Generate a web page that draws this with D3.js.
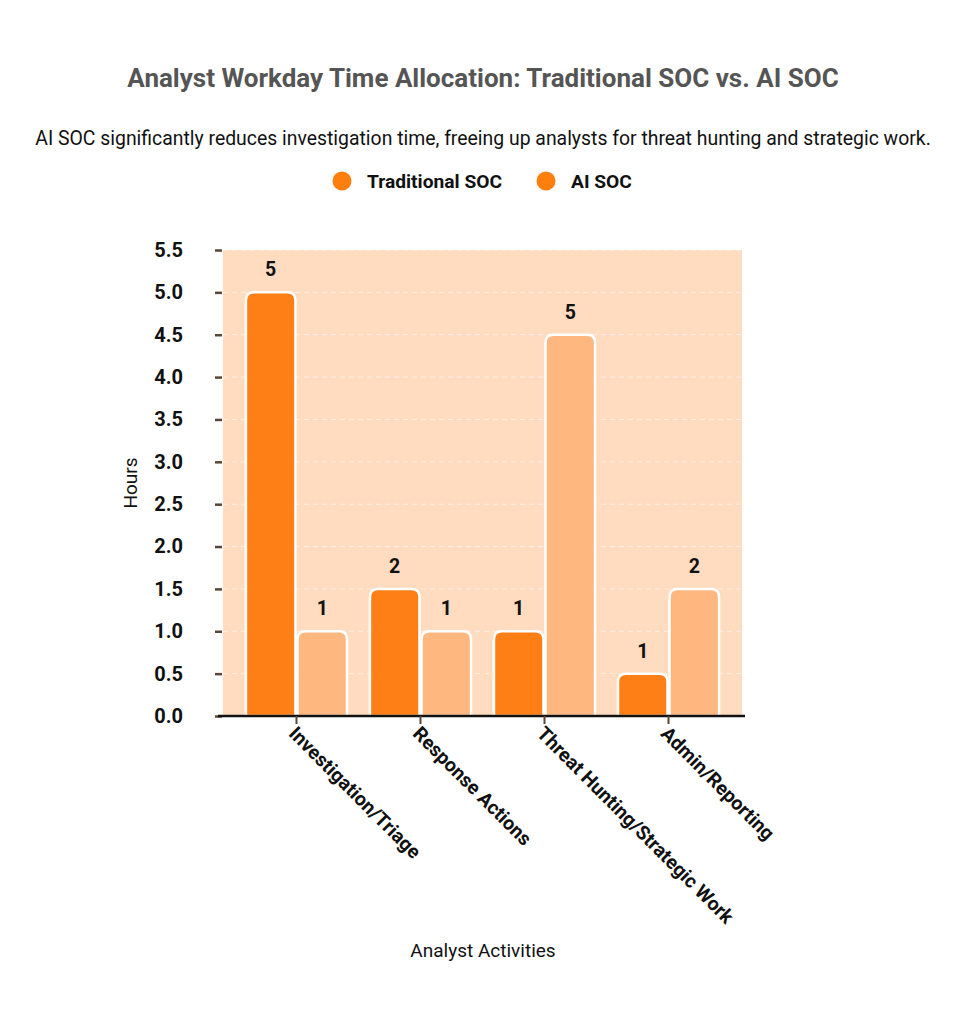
<!DOCTYPE html>
<html>
<head>
<meta charset="utf-8">
<script src="https://cdn.jsdelivr.net/npm/d3@7"></script>
<style>
  html, body { margin: 0; padding: 0; background: #ffffff; }
  svg { display: block; font-family: Roboto, "Noto Sans", sans-serif; }
</style>
</head>
<body>
<svg id="chart" width="966" height="1024"></svg>
<script>
const categories = ["Investigation/Triage", "Response Actions", "Threat Hunting/Strategic Work", "Admin/Reporting"];
const seriesNames = ["Traditional SOC", "AI SOC"];
const traditionalValues = [5, 1.5, 1, 0.5];
const aiValues = [1, 1, 4.5, 1.5];
const yTicks = [0, 0.5, 1, 1.5, 2, 2.5, 3, 3.5, 4, 4.5, 5, 5.5];

const titleText = "Analyst Workday Time Allocation: Traditional SOC vs. AI SOC";
const subtitleText = "AI SOC significantly reduces investigation time, freeing up analysts for threat hunting and strategic work.";
const xTitle = "Analyst Activities";
const yTitle = "Hours";

const barColors = ["#FF7F17", "#FFB780"];
const legendColors = ["#FF7F0E", "#FF7F0E"];

const seriesValues = [traditionalValues, aiValues];
const data = categories.map((c, i) => ({
  category: c,
  values: seriesNames.map((s, j) => ({ series: s, idx: j, value: seriesValues[j][i] }))
}));

const svg = d3.select("#chart");
const plot = { left: 223, right: 742, top: 250, bottom: 716 };

const x0 = d3.scaleBand().domain(categories).range([plot.left, plot.right]).padding(0.185);
const x1 = d3.scaleBand().domain(seriesNames).range([0, x0.bandwidth()]).paddingInner(0.04);
const y = d3.scaleLinear().domain([0, 5.5]).range([plot.bottom, plot.top]);

// title, subtitle
svg.append("text").attr("x", 483).attr("y", 87).attr("text-anchor", "middle")
  .attr("font-size", 26).attr("font-weight", 700).attr("fill", "#555555").text(titleText);
svg.append("text").attr("x", 483).attr("y", 145).attr("text-anchor", "middle")
  .attr("font-size", 19.4).attr("fill", "#111111").text(subtitleText);

// legend
const legendX = [342, 546];
const lg = svg.append("g");
seriesNames.forEach((s, i) => {
  lg.append("circle").attr("cx", legendX[i]).attr("cy", 181).attr("r", 9.5).attr("fill", legendColors[i]);
  lg.append("text").attr("x", legendX[i] + 25).attr("y", 188).attr("font-size", 19.2)
    .attr("font-weight", 700).attr("fill", "#111111").text(s);
});

// background
svg.append("rect").attr("x", plot.left).attr("y", plot.top)
  .attr("width", plot.right - plot.left).attr("height", plot.bottom - plot.top)
  .attr("fill", "#FFDBC0");

// gridlines
svg.append("g").selectAll("line").data(yTicks.filter(t => t > 0)).join("line")
  .attr("x1", plot.left).attr("x2", plot.right)
  .attr("y1", d => y(d)).attr("y2", d => y(d))
  .attr("stroke", "#ffffff").attr("stroke-opacity", 0.55)
  .attr("stroke-dasharray", "5,4").attr("stroke-width", 1);

// bars with rounded top
function barPath(xl, w, yt, yb, r) {
  r = Math.min(r, w / 2, yb - yt);
  return `M${xl},${yb}V${yt + r}Q${xl},${yt} ${xl + r},${yt}H${xl + w - r}Q${xl + w},${yt} ${xl + w},${yt + r}V${yb}Z`;
}

const groups = svg.append("g").selectAll("g").data(data).join("g")
  .attr("transform", d => `translate(${x0(d.category)},0)`);

groups.selectAll("path").data(d => d.values).join("path")
  .attr("d", d => barPath(x1(d.series), x1.bandwidth(), y(d.value), y(0), 8))
  .attr("fill", d => barColors[d.idx])
  .attr("stroke", "#ffffff").attr("stroke-width", 2.5);

groups.selectAll("text").data(d => d.values).join("text")
  .attr("x", d => x1(d.series) + x1.bandwidth() / 2)
  .attr("y", d => y(d.value) - 16)
  .attr("text-anchor", "middle").attr("font-size", 19.5).attr("font-weight", 700)
  .attr("fill", "#111111")
  .text(d => Math.round(d.value));

// y axis
const yAxis = svg.append("g").attr("transform", `translate(${plot.left - 1},0)`)
  .call(d3.axisLeft(y).tickValues(yTicks).tickFormat(d3.format(".1f")).tickSize(7).tickPadding(32));
yAxis.select(".domain").remove();
yAxis.selectAll(".tick line").attr("stroke", "#5a4636").attr("stroke-width", 2.5);
yAxis.selectAll(".tick text").attr("font-size", 20).attr("font-weight", 700)
  .attr("fill", "#111111").attr("font-family", "Roboto, sans-serif");

// x axis
const xAxis = svg.append("g").attr("transform", `translate(0,${plot.bottom})`)
  .call(d3.axisBottom(x0).tickSize(8).tickSizeOuter(0));
xAxis.select(".domain").attr("d", `M${plot.left - 5},0H${plot.right + 3}`)
  .attr("stroke", "#111111").attr("stroke-width", 2.5);
xAxis.selectAll(".tick line").attr("stroke", "#5a4636").attr("stroke-width", 2);
xAxis.selectAll(".tick text")
  .attr("font-size", 19.5).attr("font-weight", 700).attr("fill", "#111111")
  .attr("font-family", "Roboto, sans-serif")
  .attr("text-anchor", "start")
  .attr("transform", "translate(-4,14) rotate(45)")
  .attr("y", 0).attr("x", 0).attr("dy", "0.35em");

// axis titles
svg.append("text").attr("x", 483).attr("y", 957).attr("text-anchor", "middle")
  .attr("font-size", 19).attr("fill", "#111111").text(xTitle);
svg.append("text").attr("transform", "translate(137,483) rotate(-90)").attr("text-anchor", "middle")
  .attr("font-size", 19).attr("fill", "#111111").text(yTitle);
</script>
</body>
</html>
